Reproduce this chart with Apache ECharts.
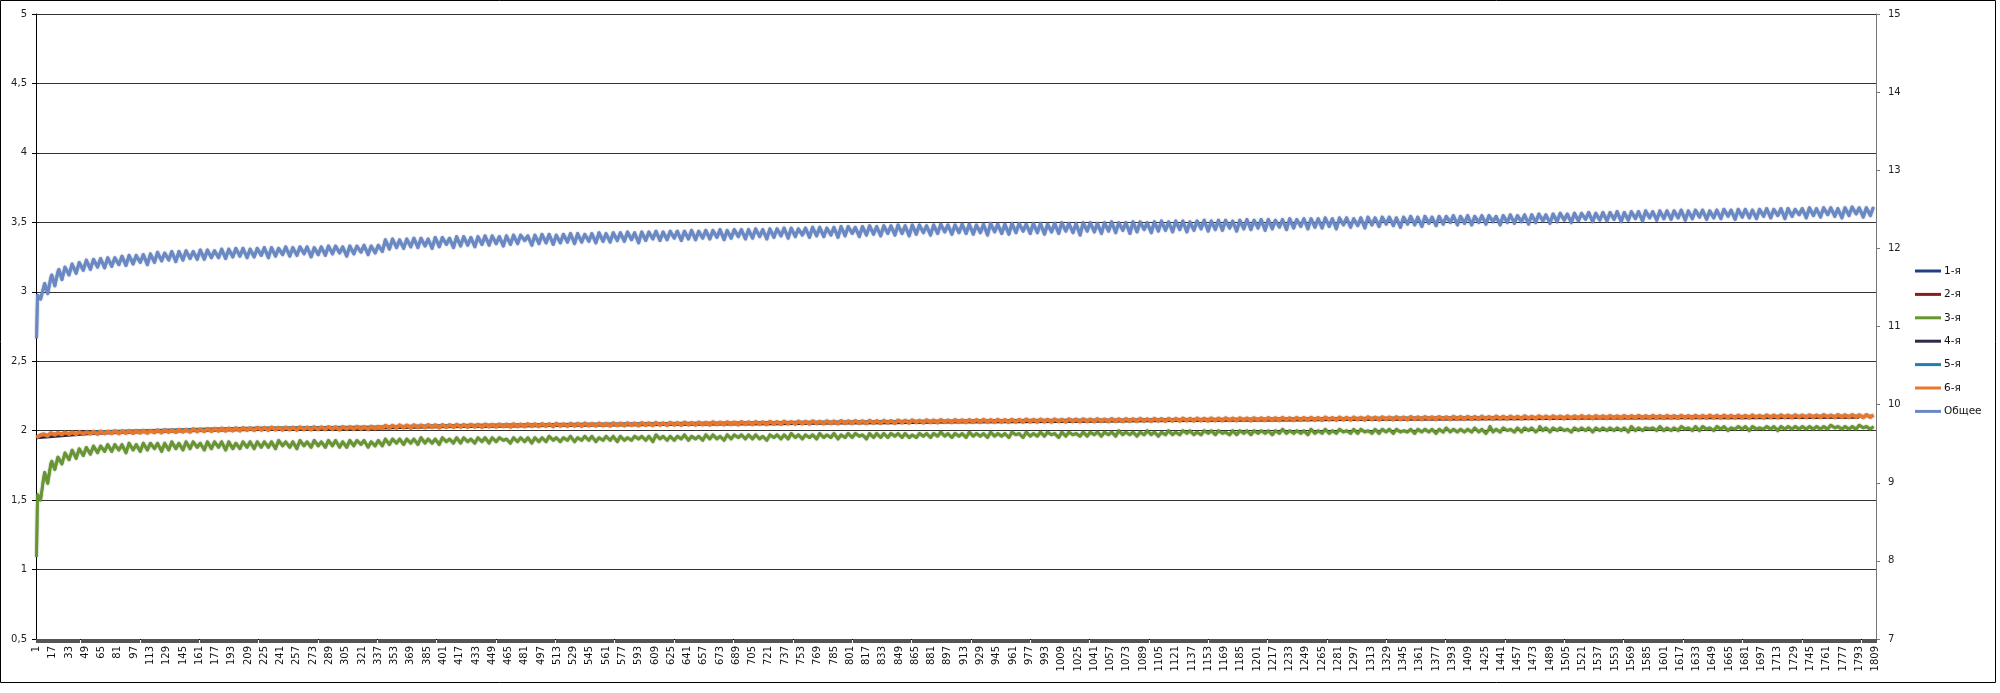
<!DOCTYPE html>
<html>
<head>
<meta charset="utf-8">
<script src="https://cdn.jsdelivr.net/npm/echarts@6/dist/echarts.min.js"></script>
<style>
html,body{margin:0;padding:0;background:#fff;}
#chart{width:2000px;height:693px;}
</style>
</head>
<body>
<div id="chart"></div>
<script>
// ---- data ----
const dayCount = 1809;
const seriesNames = ['1-я','2-я','3-я','4-я','5-я','6-я','Общее'];
const leftTicks = { min: 0.5, max: 5, step: 0.5 };
const rightTicks = { min: 7, max: 15, step: 1 };

// Общее (right axis): per week — value on day 0, value on day 1 (still high), value on day 4 (dip)
const totalWeekStart = [
10.85,11.50,11.62,11.70,11.76,11.80,11.82,11.85,11.86,11.87,
11.88,11.88,11.90,11.91,11.91,11.92,11.93,11.95,11.94,11.96,
11.96,11.97,11.96,11.98,11.98,11.97,11.99,11.99,12.00,12.00,
11.99,12.00,12.01,12.01,12.00,12.02,12.01,12.02,12.02,12.01,
12.02,12.03,12.03,12.02,12.03,12.03,12.04,12.03,12.04,12.11,
12.12,12.11,12.12,12.13,12.13,12.12,12.14,12.14,12.13,12.15,
12.15,12.14,12.15,12.16,12.16,12.15,12.16,12.17,12.17,12.16,
12.17,12.18,12.18,12.17,12.18,12.19,12.19,12.18,12.19,12.20,
12.19,12.20,12.20,12.21,12.20,12.21,12.21,12.22,12.21,12.22,
12.22,12.22,12.23,12.22,12.23,12.23,12.24,12.23,12.24,12.24,
12.24,12.25,12.24,12.25,12.25,12.26,12.26,12.25,12.26,12.27,
12.27,12.26,12.27,12.28,12.28,12.27,12.28,12.29,12.28,12.29,
12.29,12.30,12.29,12.30,12.30,12.29,12.30,12.31,12.30,12.30,
12.31,12.31,12.30,12.31,12.32,12.31,12.31,12.32,12.32,12.31,
12.32,12.32,12.31,12.32,12.33,12.32,12.32,12.33,12.33,12.32,
12.33,12.34,12.33,12.33,12.34,12.34,12.33,12.34,12.35,12.34,
12.35,12.35,12.34,12.35,12.36,12.35,12.36,12.36,12.35,12.36,
12.37,12.36,12.37,12.37,12.36,12.37,12.38,12.37,12.38,12.38,
12.38,12.39,12.38,12.39,12.39,12.38,12.39,12.40,12.39,12.40,
12.40,12.39,12.40,12.41,12.40,12.41,12.40,12.41,12.41,12.42,
12.41,12.42,12.41,12.42,12.42,12.41,12.42,12.43,12.42,12.43,
12.43,12.44,12.43,12.44,12.45,12.44,12.45,12.45,12.46,12.45,
12.46,12.46,12.47,12.46,12.47,12.47,12.48,12.47,12.48,12.48,
12.48,12.49,12.48,12.49,12.49,12.48,12.49,12.50,12.49,12.50,
12.50,12.49,12.50,12.51,12.50,12.51,12.51,12.50,12.51,12.52,
12.51,12.52,12.52,12.51,12.52,12.53,12.52,12.52,12.53];
const totalWeekMid = [
11.40,11.55,11.66,11.73,11.78,11.81,11.84,11.85,11.87,11.88,
11.88,11.89,11.90,11.91,11.92,11.93,11.94,11.94,11.95,11.96,
11.97,11.96,11.97,11.98,11.97,11.98,11.99,12.00,11.99,12.00,
12.00,12.01,12.01,12.00,12.01,12.02,12.02,12.01,12.02,12.02,
12.03,12.02,12.03,12.03,12.04,12.03,12.04,12.04,12.05,12.11,
12.11,12.12,12.13,12.12,12.13,12.14,12.14,12.13,12.14,12.15,
12.14,12.15,12.16,12.15,12.16,12.16,12.17,12.16,12.17,12.17,
12.18,12.17,12.18,12.18,12.19,12.18,12.19,12.19,12.20,12.19,
12.20,12.21,12.20,12.21,12.21,12.22,12.21,12.22,12.22,12.23,
12.22,12.23,12.22,12.23,12.24,12.23,12.24,12.24,12.25,12.24,
12.25,12.24,12.25,12.26,12.25,12.26,12.27,12.26,12.27,12.26,
12.27,12.27,12.28,12.27,12.28,12.28,12.29,12.28,12.29,12.29,
12.30,12.29,12.30,12.29,12.31,12.30,12.31,12.30,12.31,12.31,
12.30,12.31,12.32,12.31,12.31,12.32,12.32,12.31,12.32,12.32,
12.33,12.31,12.32,12.33,12.32,12.33,12.33,12.32,12.33,12.34,
12.33,12.34,12.34,12.33,12.34,12.35,12.34,12.35,12.34,12.35,
12.34,12.35,12.36,12.35,12.36,12.36,12.35,12.36,12.37,12.36,
12.37,12.37,12.36,12.38,12.37,12.38,12.37,12.38,12.38,12.39,
12.39,12.38,12.39,12.38,12.40,12.39,12.40,12.39,12.40,12.40,
12.39,12.41,12.40,12.41,12.41,12.40,12.41,12.42,12.41,12.41,
12.42,12.41,12.42,12.43,12.41,12.42,12.43,12.42,12.43,12.43,
12.44,12.43,12.44,12.45,12.44,12.45,12.44,12.46,12.45,12.46,
12.47,12.46,12.46,12.47,12.48,12.47,12.47,12.48,12.48,12.49,
12.48,12.48,12.49,12.49,12.48,12.49,12.50,12.49,12.50,12.50,
12.49,12.50,12.51,12.50,12.51,12.50,12.51,12.52,12.51,12.51,
12.52,12.51,12.52,12.53,12.52,12.52,12.53,12.53];
const totalWeekDip = [
11.35,11.42,11.52,11.60,11.66,11.68,11.72,11.73,11.76,11.75,
11.77,11.79,11.78,11.80,11.82,11.79,11.82,11.84,11.85,11.83,
11.85,11.87,11.86,11.86,11.88,11.88,11.87,11.89,11.90,11.88,
11.89,11.91,11.88,11.90,11.92,11.90,11.91,11.93,11.89,11.92,
11.91,11.93,11.94,11.90,11.93,11.95,11.92,11.94,11.96,11.99,
12.01,12.00,12.02,12.01,12.03,12.00,12.02,12.05,12.01,12.03,
12.04,12.02,12.05,12.04,12.06,12.03,12.05,12.06,12.10,12.04,
12.06,12.07,12.05,12.07,12.08,12.06,12.08,12.09,12.07,12.09,
12.08,12.10,12.09,12.11,12.07,12.10,12.12,12.10,12.11,12.13,
12.10,12.12,12.11,12.13,12.12,12.14,12.11,12.13,12.15,12.12,
12.13,12.15,12.12,12.14,12.16,12.13,12.15,12.17,12.14,12.16,
12.15,12.17,12.14,12.16,12.19,12.15,12.17,12.18,12.16,12.19,
12.17,12.19,12.16,12.18,12.20,12.17,12.19,12.21,12.18,12.20,
12.19,12.18,12.20,12.17,12.21,12.19,12.18,12.20,12.22,12.19,
12.20,12.18,12.21,12.19,12.22,12.20,12.17,12.22,12.21,12.19,
12.22,12.20,12.23,12.19,12.21,12.24,12.20,12.22,12.23,12.21,
12.24,12.21,12.23,12.25,12.22,12.24,12.23,12.26,12.22,12.25,
12.24,12.26,12.23,12.25,12.27,12.24,12.26,12.28,12.25,12.27,
12.26,12.28,12.25,12.30,12.27,12.29,12.26,12.30,12.28,12.31,
12.29,12.27,12.31,12.30,12.28,12.32,12.29,12.31,12.33,12.30,
12.32,12.30,12.33,12.31,12.34,12.30,12.33,12.32,12.34,12.31,
12.33,12.35,12.32,12.34,12.36,12.33,12.35,12.37,12.34,12.36,
12.35,12.37,12.34,12.36,12.38,12.35,12.39,12.36,12.38,12.37,
12.39,12.36,12.38,12.40,12.37,12.39,12.38,12.41,12.37,12.40,
12.39,12.38,12.41,12.39,12.42,12.38,12.41,12.43,12.39,12.42,
12.40,12.43,12.41,12.39,12.42,12.44,12.40,12.42];

// 3-я (left axis)
const s3WeekStart = [
1.09,1.66,1.76,1.81,1.84,1.86,1.87,1.88,1.89,1.89,
1.90,1.90,1.90,1.91,1.90,1.91,1.91,1.91,1.91,1.92,
1.91,1.92,1.92,1.91,1.92,1.92,1.92,1.92,1.91,1.92,
1.92,1.92,1.92,1.92,1.93,1.92,1.92,1.93,1.92,1.93,
1.92,1.93,1.93,1.92,1.93,1.93,1.93,1.92,1.93,1.94,
1.94,1.94,1.94,1.94,1.95,1.94,1.94,1.95,1.94,1.95,
1.95,1.94,1.95,1.95,1.95,1.95,1.94,1.95,1.95,1.95,
1.95,1.95,1.96,1.95,1.95,1.96,1.95,1.96,1.96,1.95,
1.96,1.96,1.96,1.95,1.96,1.96,1.96,1.97,1.96,1.96,
1.96,1.97,1.96,1.96,1.97,1.97,1.96,1.97,1.97,1.97,
1.97,1.97,1.96,1.97,1.97,1.97,1.98,1.97,1.97,1.97,
1.98,1.97,1.98,1.97,1.98,1.98,1.97,1.98,1.98,1.98,
1.98,1.98,1.98,1.97,1.98,1.98,1.98,1.99,1.98,1.98,
1.98,1.99,1.98,1.98,1.99,1.98,1.98,1.99,1.98,1.99,
1.98,1.99,1.99,1.98,1.99,1.99,1.98,1.99,1.99,1.99,
1.99,1.99,2.00,1.99,1.99,1.99,2.00,1.99,1.99,2.00,
1.99,2.00,2.00,1.99,2.00,2.00,2.00,1.99,2.00,2.00,
2.00,2.00,2.00,2.00,2.00,2.01,2.00,2.00,2.00,2.01,
2.00,2.01,2.00,2.01,2.00,2.01,2.01,2.00,2.01,2.01,
2.01,2.01,2.00,2.01,2.01,2.01,2.01,2.01,2.02,2.01,
2.01,2.01,2.02,2.01,2.01,2.01,2.02,2.01,2.02,2.02,
2.02,2.01,2.02,2.02,2.02,2.01,2.02,2.02,2.02,2.02,
2.02,2.02,2.02,2.02,2.03,2.02,2.02,2.02,2.03,2.02,
2.02,2.03,2.02,2.03,2.03,2.02,2.03,2.03,2.02,2.03,
2.03,2.03,2.02,2.03,2.03,2.03,2.03,2.03,2.03,2.03,
2.03,2.03,2.04,2.03,2.03,2.03,2.04,2.03,2.03];
const s3WeekMid = [
1.54,1.70,1.78,1.82,1.85,1.86,1.88,1.88,1.89,1.90,
1.90,1.91,1.90,1.91,1.91,1.91,1.92,1.91,1.92,1.91,
1.92,1.92,1.91,1.92,1.92,1.93,1.92,1.91,1.92,1.92,
1.93,1.92,1.92,1.93,1.92,1.93,1.92,1.93,1.93,1.92,
1.93,1.93,1.92,1.93,1.93,1.94,1.93,1.93,1.94,1.94,
1.95,1.94,1.94,1.95,1.94,1.95,1.95,1.94,1.95,1.95,
1.94,1.95,1.95,1.96,1.95,1.95,1.95,1.96,1.95,1.95,
1.96,1.95,1.96,1.96,1.95,1.96,1.96,1.96,1.95,1.96,
1.96,1.97,1.96,1.96,1.96,1.97,1.97,1.96,1.97,1.96,
1.97,1.96,1.97,1.97,1.97,1.96,1.97,1.97,1.98,1.97,
1.97,1.98,1.97,1.97,1.98,1.97,1.98,1.98,1.97,1.98,
1.97,1.98,1.98,1.98,1.97,1.98,1.98,1.98,1.99,1.98,
1.98,1.99,1.98,1.98,1.99,1.98,1.99,1.98,1.99,1.99,
1.99,1.98,1.99,1.99,1.98,1.99,1.99,1.99,1.99,1.98,
1.99,1.99,2.00,1.99,1.99,2.00,1.99,2.00,1.99,1.99,
2.00,2.00,1.99,2.00,2.00,2.00,1.99,2.00,2.00,2.00,
2.00,2.00,2.01,2.00,2.00,2.01,2.00,2.00,2.01,2.00,
2.01,2.00,2.01,2.01,2.00,2.01,2.01,2.01,2.01,2.00,
2.01,2.01,2.01,2.02,2.01,2.01,2.02,2.01,2.01,2.02,
2.02,2.01,2.01,2.02,2.02,2.01,2.02,2.02,2.02,2.02,
2.02,2.02,2.02,2.02,2.03,2.02,2.02,2.02,2.03,2.02,
2.02,2.03,2.02,2.02,2.03,2.02,2.03,2.03,2.02,2.03,
2.03,2.03,2.02,2.03,2.03,2.03,2.03,2.02,2.03,2.03,
2.03,2.03,2.03,2.03,2.02,2.03,2.03,2.04,2.03,2.03,
2.03,2.04,2.03,2.03,2.04,2.03,2.03,2.04,2.03,2.04,
2.04,2.03,2.04,2.04,2.03,2.04,2.04,2.04];
const s3WeekDip = [
1.50,1.62,1.72,1.76,1.79,1.80,1.82,1.83,1.84,1.85,
1.85,1.86,1.84,1.86,1.85,1.86,1.87,1.85,1.86,1.87,
1.86,1.87,1.88,1.86,1.87,1.88,1.86,1.87,1.87,1.88,
1.87,1.88,1.88,1.87,1.89,1.88,1.87,1.89,1.88,1.89,
1.88,1.89,1.88,1.88,1.89,1.90,1.88,1.89,1.89,1.90,
1.91,1.90,1.91,1.90,1.91,1.91,1.90,1.92,1.91,1.91,
1.92,1.91,1.92,1.91,1.92,1.93,1.91,1.92,1.92,1.91,
1.92,1.92,1.93,1.92,1.93,1.92,1.93,1.93,1.92,1.93,
1.93,1.92,1.93,1.93,1.94,1.93,1.92,1.94,1.93,1.93,
1.94,1.93,1.94,1.93,1.94,1.94,1.93,1.94,1.95,1.94,
1.94,1.94,1.93,1.95,1.94,1.94,1.95,1.94,1.95,1.94,
1.95,1.95,1.94,1.95,1.95,1.96,1.94,1.95,1.95,1.95,
1.96,1.95,1.95,1.95,1.96,1.95,1.96,1.96,1.95,1.96,
1.95,1.96,1.96,1.95,1.96,1.96,1.95,1.97,1.95,1.96,
1.96,1.96,1.97,1.95,1.96,1.97,1.96,1.96,1.97,1.96,
1.97,1.96,1.97,1.97,1.96,1.97,1.97,1.96,1.97,1.97,
1.97,1.98,1.97,1.97,1.98,1.97,1.98,1.97,1.97,1.98,
1.97,1.98,1.98,1.97,1.98,1.98,1.98,1.98,1.97,1.98,
1.98,1.98,1.98,1.99,1.98,1.98,1.99,1.98,1.98,1.99,
1.98,1.99,1.99,1.98,1.99,1.99,1.98,1.99,1.99,1.99,
1.99,1.99,1.99,1.98,1.99,1.99,2.00,1.99,1.99,2.00,
1.99,2.00,1.99,2.00,2.00,1.99,2.00,2.00,1.99,2.00,
2.00,2.00,2.00,1.99,2.00,2.00,2.01,2.00,2.00,2.00,
2.00,2.01,2.00,2.00,2.01,2.00,2.01,2.00,2.01,2.01,
2.00,2.01,2.01,2.01,2.00,2.01,2.01,2.01,2.01,2.01,
2.01,2.01,2.02,2.01,2.01,2.01,2.02,2.01];

// 6-я (left axis): per week — value on day 0 and dip on day 4
const s6WeekStart = [
1.950,1.975,1.983,1.984,1.988,1.989,1.991,1.990,1.993,1.995,
1.994,1.997,1.996,1.998,1.999,2.001,2.000,2.003,2.005,2.004,
2.007,2.008,2.011,2.010,2.013,2.014,2.017,2.016,2.019,2.020,
2.019,2.022,2.021,2.023,2.022,2.024,2.023,2.025,2.024,2.026,
2.025,2.027,2.026,2.028,2.027,2.029,2.028,2.030,2.029,2.036,
2.037,2.039,2.038,2.040,2.039,2.041,2.040,2.042,2.041,2.043,
2.042,2.044,2.043,2.045,2.044,2.046,2.045,2.047,2.046,2.048,
2.047,2.049,2.048,2.050,2.048,2.051,2.050,2.052,2.050,2.053,
2.051,2.054,2.052,2.055,2.053,2.056,2.054,2.057,2.055,2.058,
2.056,2.059,2.057,2.060,2.058,2.061,2.059,2.062,2.060,2.063,
2.061,2.064,2.062,2.065,2.063,2.066,2.064,2.067,2.065,2.068,
2.066,2.069,2.067,2.070,2.068,2.071,2.069,2.072,2.070,2.073,
2.071,2.074,2.072,2.075,2.073,2.076,2.074,2.077,2.075,2.078,
2.076,2.078,2.077,2.079,2.077,2.080,2.078,2.080,2.079,2.081,
2.079,2.081,2.080,2.082,2.080,2.083,2.081,2.083,2.082,2.084,
2.082,2.085,2.083,2.085,2.084,2.086,2.084,2.087,2.085,2.087,
2.086,2.088,2.086,2.089,2.087,2.089,2.088,2.090,2.088,2.091,
2.089,2.091,2.090,2.092,2.090,2.093,2.091,2.093,2.092,2.094,
2.092,2.095,2.093,2.095,2.094,2.096,2.094,2.097,2.095,2.097,
2.096,2.098,2.096,2.099,2.097,2.099,2.098,2.100,2.098,2.101,
2.099,2.101,2.100,2.102,2.100,2.103,2.101,2.103,2.102,2.104,
2.102,2.104,2.103,2.105,2.103,2.105,2.104,2.106,2.104,2.106,
2.105,2.107,2.105,2.107,2.106,2.108,2.106,2.108,2.107,2.108,
2.107,2.109,2.107,2.109,2.108,2.110,2.108,2.110,2.109,2.110,
2.109,2.111,2.109,2.111,2.110,2.112,2.110,2.112,2.111,2.112,
2.111,2.113,2.111,2.113,2.112,2.113,2.112,2.114,2.113];
const s6WeekDip = [
1.968,1.962,1.970,1.972,1.975,1.974,1.977,1.978,1.976,1.980,
1.981,1.980,1.983,1.982,1.985,1.984,1.987,1.986,1.990,1.989,
1.992,1.991,1.994,1.995,1.996,1.998,1.999,2.001,2.000,2.004,
2.003,2.005,2.004,2.007,2.006,2.008,2.005,2.009,2.008,2.010,
2.009,2.011,2.008,2.012,2.011,2.013,2.010,2.014,2.016,2.020,
2.021,2.022,2.020,2.024,2.023,2.025,2.022,2.026,2.025,2.027,
2.026,2.028,2.025,2.029,2.028,2.030,2.027,2.031,2.030,2.032,
2.031,2.033,2.030,2.034,2.032,2.035,2.033,2.036,2.034,2.037,
2.035,2.038,2.036,2.039,2.037,2.040,2.038,2.041,2.039,2.042,
2.040,2.043,2.041,2.044,2.042,2.045,2.043,2.046,2.044,2.047,
2.045,2.048,2.046,2.049,2.047,2.050,2.048,2.051,2.049,2.052,
2.050,2.053,2.051,2.054,2.052,2.055,2.053,2.056,2.054,2.057,
2.055,2.058,2.056,2.059,2.057,2.060,2.058,2.061,2.059,2.062,
2.060,2.062,2.061,2.063,2.061,2.064,2.062,2.064,2.063,2.065,
2.063,2.065,2.064,2.066,2.064,2.067,2.065,2.067,2.066,2.068,
2.066,2.069,2.067,2.069,2.068,2.070,2.068,2.071,2.069,2.071,
2.070,2.072,2.070,2.073,2.071,2.073,2.072,2.074,2.072,2.075,
2.073,2.075,2.074,2.076,2.074,2.077,2.075,2.077,2.076,2.078,
2.076,2.079,2.077,2.079,2.078,2.080,2.078,2.081,2.079,2.081,
2.080,2.082,2.080,2.083,2.081,2.083,2.082,2.084,2.082,2.085,
2.083,2.085,2.084,2.086,2.084,2.087,2.085,2.087,2.086,2.088,
2.086,2.088,2.087,2.089,2.087,2.089,2.088,2.090,2.088,2.090,
2.089,2.091,2.089,2.091,2.090,2.092,2.090,2.092,2.091,2.092,
2.091,2.093,2.091,2.093,2.092,2.094,2.092,2.094,2.093,2.094,
2.093,2.095,2.093,2.095,2.094,2.096,2.094,2.096,2.095,2.096,
2.095,2.097,2.095,2.097,2.096,2.097,2.096,2.098];

// 1-я, 2-я, 4-я, 5-я (mostly hidden under 6-я), one reading every 8 weeks
const s1Every8Weeks = [1.955,1.988,1.998,2.010,2.016,2.021,2.024,2.033,2.038,2.042,2.046,2.049,2.052,2.056,2.060,2.063,2.067,2.070,2.072,2.075,2.078,2.080,2.083,2.085,2.088,2.090,2.092,2.094,2.096,2.098,2.099,2.101,2.102];
const s2Every8Weeks = [1.952,1.985,1.996,2.006,2.013,2.018,2.022,2.030,2.035,2.039,2.043,2.046,2.050,2.053,2.057,2.060,2.064,2.067,2.069,2.072,2.075,2.077,2.080,2.082,2.085,2.087,2.089,2.091,2.093,2.095,2.096,2.098,2.099];
const s4Every8Weeks = [1.945,1.978,1.990,2.000,2.006,2.011,2.015,2.024,2.029,2.033,2.037,2.040,2.044,2.047,2.051,2.054,2.058,2.061,2.063,2.066,2.069,2.071,2.074,2.076,2.079,2.081,2.083,2.085,2.087,2.089,2.090,2.092,2.093];
const s5Every8Weeks = [1.960,1.995,2.005,2.015,2.022,2.027,2.030,2.039,2.044,2.048,2.052,2.055,2.058,2.062,2.066,2.069,2.073,2.076,2.078,2.081,2.084,2.086,2.089,2.091,2.094,2.096,2.098,2.100,2.102,2.104,2.105,2.107,2.108];

// ---- build ----
const categories = Array.from({length: dayCount}, (_, i) => String(i + 1));
function weekly(startVals, midVals, dipVals) {
  const out = [];
  for (let w = 0; w < startVals.length; w++) {
    if (7 * w < dayCount) out.push([7 * w, startVals[w]]);
    if (midVals && w < midVals.length && 7 * w + 1 < dayCount) out.push([7 * w + 1, midVals[w]]);
    if (w < dipVals.length && 7 * w + 4 < dayCount) out.push([7 * w + 4, dipVals[w]]);
  }
  return out;
}
function every8Weeks(vals) { return vals.map((v, k) => [56 * k, v]); }

const colors = ['#1f3f86', '#8c1c1c', '#66962e', '#2c2c48', '#1f7fb0', '#e8762c', '#6888c6'];
const font = 'DejaVu Sans';

function lineSeries(name, data, color, width, yIdx, z, shadow) {
  const ls = { color: color, width: width, join: 'round' };
  if (shadow) { ls.shadowColor = shadow; ls.shadowBlur = 1.5; }
  return {
    name, type: 'line', data, yAxisIndex: yIdx, symbol: 'none', showSymbol: false,
    smooth: false, z: z, color: color, lineStyle: ls,
    emphasis: { disabled: true }
  };
}

const chart = echarts.init(document.getElementById('chart'), null, { renderer: 'canvas' });
chart.setOption({
  animation: false,
  backgroundColor: '#fff',
  grid: { left: 36, right: 124, top: 14, bottom: 54, containLabel: false },
  legend: {
    data: seriesNames, orient: 'vertical', left: 1915, top: 264, padding: 0,
    icon: 'rect', itemWidth: 26, itemHeight: 3, itemGap: 9.4,
    textStyle: { fontFamily: font, fontSize: 10.5, color: '#111', lineHeight: 14, padding: [0, 0, 0, -2] }
  },
  xAxis: {
    type: 'category', data: categories, boundaryGap: true,
    axisLine: { show: true, lineStyle: { color: '#000', width: 1 } },
    axisTick: { show: true, interval: 0, length: 4, lineStyle: { color: '#555' } },
    axisLabel: { interval: 15, rotate: 90, fontFamily: font, fontSize: 10, color: '#111', margin: 7 },
    splitLine: { show: false }
  },
  yAxis: [
    {
      type: 'value', position: 'left', min: leftTicks.min, max: leftTicks.max, interval: leftTicks.step,
      axisLine: { show: true, lineStyle: { color: '#000' } },
      axisTick: { show: true, length: 4, lineStyle: { color: '#000' } },
      axisLabel: { fontFamily: font, fontSize: 10, color: '#222', margin: 9,
        formatter: v => String(v).replace('.', ',') },
      splitLine: { show: true, lineStyle: { color: '#333', width: 1 } }
    },
    {
      type: 'value', position: 'right', min: rightTicks.min, max: rightTicks.max, interval: rightTicks.step,
      axisLine: { show: true, lineStyle: { color: '#777' } },
      axisTick: { show: true, length: 4, lineStyle: { color: '#777' } },
      axisLabel: { fontFamily: font, fontSize: 10, color: '#222', margin: 12 },
      splitLine: { show: false }
    }
  ],
  series: [
    lineSeries(seriesNames[0], every8Weeks(s1Every8Weeks), colors[0], 2, 0, 2),
    lineSeries(seriesNames[1], every8Weeks(s2Every8Weeks), colors[1], 2, 0, 2),
    lineSeries(seriesNames[2], weekly(s3WeekStart, s3WeekMid, s3WeekDip), colors[2], 2.8, 0, 3, 'rgba(40,60,10,0.7)'),
    lineSeries(seriesNames[3], every8Weeks(s4Every8Weeks), colors[3], 2, 0, 2),
    lineSeries(seriesNames[4], every8Weeks(s5Every8Weeks), colors[4], 2, 0, 2),
    lineSeries(seriesNames[5], weekly(s6WeekStart, null, s6WeekDip), colors[5], 3.7, 0, 4, 'rgba(90,40,10,0.5)'),
    lineSeries(seriesNames[6], weekly(totalWeekStart, totalWeekMid, totalWeekDip), colors[6], 3, 1, 5, 'rgba(30,50,100,0.6)')
  ],
  graphic: [{
    type: 'rect', silent: true, z: 100,
    shape: { x: 0.5, y: 0.5, width: 1995, height: 682 },
    style: { fill: 'none', stroke: '#000', lineWidth: 1 }
  }]
});
</script>
</body>
</html>
